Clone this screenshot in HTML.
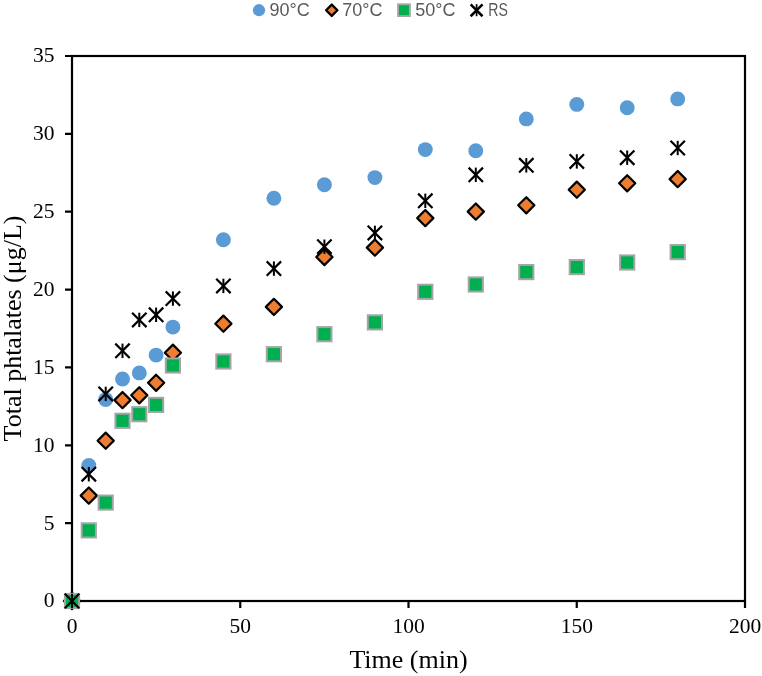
<!DOCTYPE html>
<html lang="en"><head><meta charset="utf-8"><title>Total phtalates vs time</title>
<style>
html,body{margin:0;padding:0;background:#fff;}
body{width:762px;height:676px;overflow:hidden;}
svg{display:block;will-change:transform;}
.tick{font-family:"Liberation Serif","Times New Roman",serif;font-size:21.5px;fill:#000;}
.ttl{font-family:"Liberation Serif","Times New Roman",serif;font-size:26px;fill:#000;}
.lg{font-family:"Liberation Sans",Arial,sans-serif;font-size:18px;fill:#595959;}
</style></head><body>
<svg width="762" height="676" viewBox="0 0 762 676">
<rect width="762" height="676" fill="#fff"/>
<defs>
<circle id="m90" r="7.45" fill="#5B9BD5"/>
<path id="m70" d="M0-8.1 L8.1 0 L0 8.1 L-8.1 0Z" fill="#ED7D31" stroke="#000" stroke-width="2.2" stroke-linejoin="round"/>
<rect id="m50" x="-7.1" y="-7.1" width="14.2" height="14.2" fill="#00B050" stroke="#A5A5A5" stroke-width="2"/>
<g id="mRS" fill="none" stroke="#000"><path d="M-7.2-7.2 L7.2 7.2 M7.2-7.2 L-7.2 7.2" stroke-width="2.2"/><path d="M0-7.2 V7.2" stroke-width="2"/></g>
</defs>

<rect x="72.0" y="56.0" width="673.0" height="545.0" fill="none" stroke="#000" stroke-width="2.2"/>
<path d="M65.0 601.00H72.0 M65.0 523.14H72.0 M65.0 445.29H72.0 M65.0 367.43H72.0 M65.0 289.57H72.0 M65.0 211.71H72.0 M65.0 133.86H72.0 M65.0 56.00H72.0 M72.00 601.0V608.0 M240.25 601.0V608.0 M408.50 601.0V608.0 M576.75 601.0V608.0 M745.00 601.0V608.0 " stroke="#000" stroke-width="2.2" fill="none"/>
<text class="tick" x="54.5" y="607.4" text-anchor="end">0</text>
<text class="tick" x="54.5" y="529.5" text-anchor="end">5</text>
<text class="tick" x="54.5" y="451.7" text-anchor="end">10</text>
<text class="tick" x="54.5" y="373.8" text-anchor="end">15</text>
<text class="tick" x="54.5" y="296.0" text-anchor="end">20</text>
<text class="tick" x="54.5" y="218.1" text-anchor="end">25</text>
<text class="tick" x="54.5" y="140.3" text-anchor="end">30</text>
<text class="tick" x="54.5" y="62.4" text-anchor="end">35</text>
<text class="tick" x="72.0" y="632.6" text-anchor="middle">0</text>
<text class="tick" x="240.2" y="632.6" text-anchor="middle">50</text>
<text class="tick" x="408.5" y="632.6" text-anchor="middle">100</text>
<text class="tick" x="576.8" y="632.6" text-anchor="middle">150</text>
<text class="tick" x="745.0" y="632.6" text-anchor="middle">200</text>
<text class="ttl" x="408.5" y="668" text-anchor="middle">Time (min)</text>
<text class="ttl" transform="translate(20.7 328.5) rotate(-90)" text-anchor="middle">Total phtalates (μg/L)</text>
<g>
<use href="#m90" x="72.0" y="601.0"/>
<use href="#m90" x="88.8" y="465.4"/>
<use href="#m90" x="105.7" y="399.5"/>
<use href="#m90" x="122.5" y="379.0"/>
<use href="#m90" x="139.3" y="372.9"/>
<use href="#m90" x="156.1" y="355.1"/>
<use href="#m90" x="172.9" y="327.1"/>
<use href="#m90" x="223.4" y="239.7"/>
<use href="#m90" x="273.9" y="198.3"/>
<use href="#m90" x="324.4" y="184.7"/>
<use href="#m90" x="374.9" y="177.6"/>
<use href="#m90" x="425.3" y="149.6"/>
<use href="#m90" x="475.8" y="150.8"/>
<use href="#m90" x="526.3" y="118.9"/>
<use href="#m90" x="576.8" y="104.4"/>
<use href="#m90" x="627.2" y="107.7"/>
<use href="#m90" x="677.7" y="98.9"/>
</g>
<g>
<use href="#m70" x="72.0" y="601.0"/>
<use href="#m70" x="88.8" y="495.6"/>
<use href="#m70" x="105.7" y="440.7"/>
<use href="#m70" x="122.5" y="400.1"/>
<use href="#m70" x="139.3" y="395.3"/>
<use href="#m70" x="156.1" y="382.8"/>
<use href="#m70" x="172.9" y="352.7"/>
<use href="#m70" x="223.4" y="323.7"/>
<use href="#m70" x="273.9" y="306.9"/>
<use href="#m70" x="324.4" y="257.0"/>
<use href="#m70" x="374.9" y="247.6"/>
<use href="#m70" x="425.3" y="218.1"/>
<use href="#m70" x="475.8" y="211.6"/>
<use href="#m70" x="526.3" y="205.3"/>
<use href="#m70" x="576.8" y="189.7"/>
<use href="#m70" x="627.2" y="183.3"/>
<use href="#m70" x="677.7" y="179.1"/>
</g>
<g>
<use href="#m50" x="72.0" y="601.0"/>
<use href="#m50" x="88.8" y="530.4"/>
<use href="#m50" x="105.7" y="502.6"/>
<use href="#m50" x="122.5" y="420.8"/>
<use href="#m50" x="139.3" y="414.2"/>
<use href="#m50" x="156.1" y="404.9"/>
<use href="#m50" x="172.9" y="365.5"/>
<use href="#m50" x="223.4" y="361.5"/>
<use href="#m50" x="273.9" y="354.2"/>
<use href="#m50" x="324.4" y="334.2"/>
<use href="#m50" x="374.9" y="322.4"/>
<use href="#m50" x="425.3" y="291.8"/>
<use href="#m50" x="475.8" y="284.5"/>
<use href="#m50" x="526.3" y="272.1"/>
<use href="#m50" x="576.8" y="267.1"/>
<use href="#m50" x="627.2" y="262.5"/>
<use href="#m50" x="677.7" y="252.1"/>
</g>
<g>
<use href="#mRS" x="72.0" y="601.0"/>
<use href="#mRS" x="88.8" y="474.2"/>
<use href="#mRS" x="105.7" y="393.9"/>
<use href="#mRS" x="122.5" y="350.8"/>
<use href="#mRS" x="139.3" y="319.9"/>
<use href="#mRS" x="156.1" y="314.8"/>
<use href="#mRS" x="172.9" y="298.6"/>
<use href="#mRS" x="223.4" y="285.9"/>
<use href="#mRS" x="273.9" y="268.6"/>
<use href="#mRS" x="324.4" y="246.7"/>
<use href="#mRS" x="374.9" y="232.9"/>
<use href="#mRS" x="425.3" y="200.8"/>
<use href="#mRS" x="475.8" y="174.8"/>
<use href="#mRS" x="526.3" y="165.3"/>
<use href="#mRS" x="576.8" y="161.4"/>
<use href="#mRS" x="627.2" y="157.7"/>
<use href="#mRS" x="677.7" y="148.0"/>
</g>
<circle cx="259" cy="10.2" r="6.1" fill="#5B9BD5"/>
<text class="lg" x="269.5" y="16">90°C</text>
<path d="M331.75 4.59 L337.41 10.25 L331.75 15.91 L326.09 10.25Z" fill="#ED7D31" stroke="#000" stroke-width="2.3" stroke-linejoin="round"/>
<text class="lg" x="342.2" y="16">70°C</text>
<rect x="398.07" y="4.28" width="11.8" height="11.8" fill="#00B050" stroke="#A5A5A5" stroke-width="1.9"/>
<text class="lg" x="415.3" y="16">50°C</text>
<g fill="none" stroke="#000"><path d="M470.65 4.35L482.55 16.25 M482.55 4.35L470.65 16.25" stroke-width="2.5"/><path d="M476.6 4.1V16.2" stroke-width="1.7"/></g>
<text class="lg" x="488.3" y="16" textLength="19.6" lengthAdjust="spacingAndGlyphs">RS</text>
</svg></body></html>
